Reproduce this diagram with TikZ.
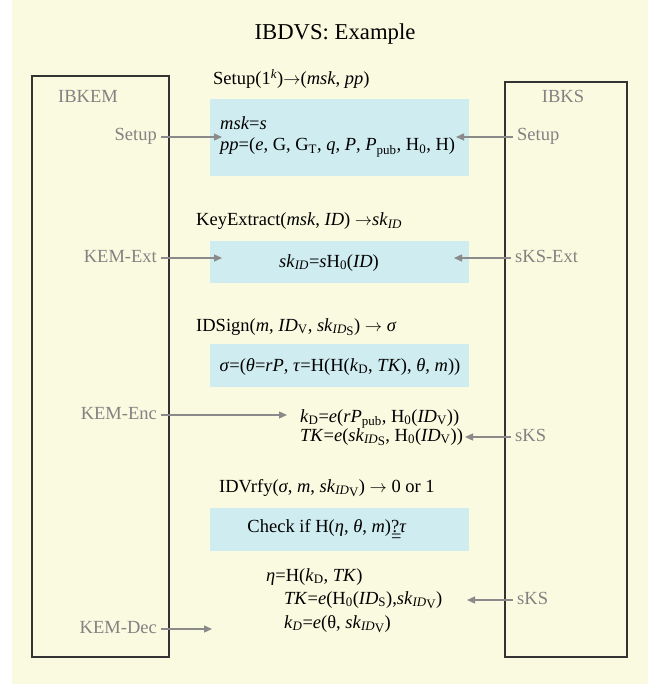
\documentclass[tikz,border=0pt]{standalone}
\usepackage{fontspec}
\setmainfont{Liberation Serif}
\usetikzlibrary{positioning, arrows.meta}
\definecolor{bgyellow}{RGB}{250,250,224}
\definecolor{stepblue}{RGB}{207,236,240}
\definecolor{labelgray}{RGB}{130,130,130}
\definecolor{edgegray}{RGB}{138,138,138}

\begin{document}
\begin{tikzpicture}[
		x=1pt, y=-1pt,
		% Define styles for the nodes
		every node/.style={
			font=\fontsize{18.5}{22}\selectfont, inner sep=0pt,
			text height=12pt, text depth=4pt
		},
		actorbox/.style={
			rectangle, draw=black!80, line width=1.3pt
		},
		stepbox/.style={
			rectangle, fill=stepblue, minimum width=259pt
		},
		sidelabel/.style={
			text=labelgray
		},
		edge/.style={
			-{Triangle[length=8pt,width=7pt]}, draw=edgegray, line width=1.3pt,
			shorten <=4pt
		}
		]
		
		% Background and page frame
		\useasboundingbox (0,0) rectangle (648,684);
		\fill[bgyellow] (12,0) rectangle (648,684);
		
		\node[font=\fontsize{22.7}{26}\selectfont] (title) at (335,36) {IBDVS: Example};
		
		% The two parties
		\node[actorbox, minimum width=137pt, minimum height=581pt] (kem) at (100.5,366.5) {};
		\node[actorbox, minimum width=122pt, minimum height=575pt] (ks) at (566,369.5) {};
		\node[sidelabel] (kemname) at (88,99) {IBKEM};
		\node[sidelabel] (ksname) at (563,99) {IBKS};
		
		\node[sidelabel, anchor=east] (kemsetup) at (157,137) {Setup};
		\node[sidelabel, anchor=east] (kemext) at (157,258) {KEM-Ext};
		\node[sidelabel, anchor=east] (kemenc) at (157,415) {KEM-Enc};
		\node[sidelabel, anchor=east] (kemdec) at (157,629) {KEM-Dec};
		
		\node[sidelabel, anchor=west] (kssetup) at (517,137) {Setup};
		\node[sidelabel, anchor=west] (ksext) at (515,258) {sKS-Ext};
		\node[sidelabel, anchor=west] (kssign) at (515,437) {sKS};
		\node[sidelabel, anchor=west] (ksvrfy) at (517,600) {sKS};
		
		% Setup
		\node[anchor=west] (setuplbl) at (213,81) {Setup(1\textsuperscript{\textit{k}})$\rightarrow$(\textit{msk}, \textit{pp})};
		\node[stepbox, minimum height=77pt] (setupbox) at (339.5,137.5) {};
		\node[anchor=west] (msk) at (220,126) {\textit{msk}=\textit{s}};
		\node[anchor=west] (pp) at (220,147) {\textit{pp}=(\textit{e}, G, G\textsubscript{T}, \textit{q}, \textit{P}, \textit{P}\textsubscript{pub}, H\textsubscript{0}, H)};
		
		% KeyExtract
		\node[anchor=west] (extlbl) at (196,222) {KeyExtract(\textit{msk}, \textit{ID}) $\rightarrow$\textit{sk}\textsubscript{\textit{ID}}};
		\node[stepbox, minimum height=42pt] (extbox) at (339.5,262) {};
		\node (skid) at (329,263) {\textit{sk}\textsubscript{\textit{ID}}=\textit{s}H\textsubscript{0}(\textit{ID})};
		
		% IDSign
		\node[anchor=west] (signlbl) at (196,327) {IDSign(\textit{m}, \textit{ID}\textsubscript{V}, \textit{sk}\textsubscript{\textit{ID}\raisebox{-0.25ex}{S}}) $\rightarrow$ \textit{σ}};
		\node[stepbox, minimum height=43pt] (signbox) at (339.5,365.5) {};
		\node (sigma) at (340,367) {\textit{σ}=(\textit{θ}=\textit{rP}, \textit{τ}=H(H(\textit{k}\textsubscript{D}, \textit{TK}), \textit{θ}, \textit{m}))};
		\node[anchor=west] (kdsign) at (300,418) {\textit{k}\textsubscript{D}=\textit{e}(\textit{rP}\textsubscript{pub}, H\textsubscript{0}(\textit{ID}\textsubscript{V}))};
		\node[anchor=west] (tksign) at (300,437) {\textit{TK}=\textit{e}(\textit{sk}\textsubscript{\textit{ID}\raisebox{-0.25ex}{S}}, H\textsubscript{0}(\textit{ID}\textsubscript{V}))};
		
		% IDVrfy
		\node[anchor=west] (vrfylbl) at (219,488) {IDVrfy(\textit{σ}, \textit{m}, \textit{sk}\textsubscript{\textit{ID}\raisebox{-0.25ex}{V}}) $\rightarrow$ 0 or 1};
		\node[stepbox, minimum height=43pt] (vrfybox) at (339.5,529.5) {};
		\node (check) at (327,528) {Check if H(\textit{η}, \textit{θ}, \textit{m})\makebox[0pt][l]{\raisebox{-0.55em}{=}}?\textit{τ}};
		\node[anchor=west] (eta) at (266,577) {\textit{η}=H(\textit{k}\textsubscript{D}, \textit{TK})};
		\node[anchor=west] (tkvrfy) at (284,600) {\textit{TK}=\textit{e}(H\textsubscript{0}(\textit{ID}\textsubscript{S}),\textit{sk}\textsubscript{\textit{ID}\raisebox{-0.25ex}{V}})};
		\node[anchor=west] (kdvrfy) at (284,624) {\textit{k}\textsubscript{\textit{D}}=\textit{e}(θ, \textit{sk}\textsubscript{\textit{ID}\raisebox{-0.25ex}{V}})};
		
		% Arrow ends
		\coordinate (setupin) at (222,137);
		\coordinate (extin) at (222,258);
		\coordinate (encin) at (287,415);
		\coordinate (decin) at (212,629);
		\coordinate (kssetupin) at (456,137);
		\coordinate (ksextin) at (454,258);
		\coordinate (kssignin) at (465,437);
		\coordinate (ksvrfyin) at (467,600);
		
		% Draw connections from the parties to the steps
		\draw[edge] (kemsetup) -- (setupin);
		\draw[edge] (kemext) -- (extin);
		\draw[edge] (kemenc) -- (encin);
		\draw[edge] (kemdec) -- (decin);
		\draw[edge] (kssetup) -- (kssetupin);
		\draw[edge] (ksext) -- (ksextin);
		\draw[edge] (kssign) -- (kssignin);
		\draw[edge] (ksvrfy) -- (ksvrfyin);
		
	\end{tikzpicture}
\end{document}
